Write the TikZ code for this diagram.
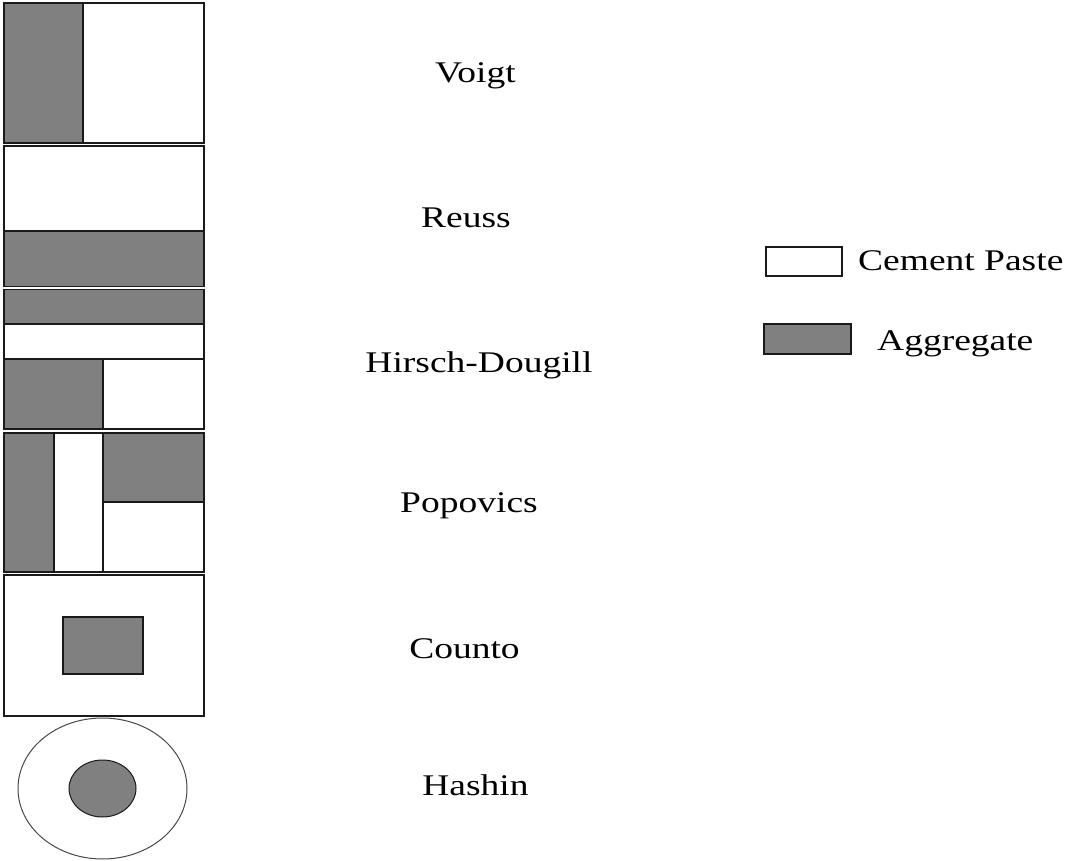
\documentclass[tikz,border=0pt]{standalone}
\usepackage{fontspec}
\setmainfont{Liberation Serif}[FakeStretch=1.25]
\definecolor{aggr}{HTML}{808080}
\definecolor{edge}{HTML}{1A1A1A}
\begin{document}
\begin{tikzpicture}[x=1pt,y=-1pt,
  agg/.style={fill=aggr,draw=edge,line width=1.2pt},
  paste/.style={fill=white,draw=edge,line width=1.2pt},
  thin paste/.style={fill=white,draw=edge!80,line width=1pt},
  lbl/.style={anchor=base,inner sep=0pt,font=\fontsize{30}{36}\selectfont},
  leg/.style={anchor=base west,inner sep=0pt,font=\fontsize{30}{36}\selectfont}]
\useasboundingbox (0,0) rectangle (1069,861);
% Voigt
\draw[paste] (83,3) rectangle (204,143);
\draw[agg] (4,3) rectangle (83,143);
% Reuss
\draw[paste] (4,146) rectangle (204,231);
\draw[agg] (4,231) rectangle (204,286.5);
% Hirsch-Dougill
\draw[agg] (4,289.5) rectangle (204,324);
\draw[paste] (4,324) rectangle (204,359);
\draw[agg] (4,359) rectangle (103,429);
\draw[paste] (103,359) rectangle (204,429);
% Popovics
\draw[agg] (4,433) rectangle (54,572);
\draw[paste] (54,433) rectangle (103,572);
\draw[agg] (103,433) rectangle (204,502);
\draw[paste] (103,502) rectangle (204,572);
% Counto
\draw[paste] (4,575) rectangle (204,716);
\draw[agg] (63,617) rectangle (143,674);
% Hashin
\draw[thin paste] (102.5,788.5) ellipse [x radius=84.5, y radius=70.5];
\draw[agg,line width=1pt] (102.5,788.5) ellipse [x radius=33.5, y radius=28.5];
% labels
\node[lbl] (voigt) at (475.5,83) {Voigt};
\node[lbl] (reuss) at (466,228) {Reuss};
\node[lbl] (hirsch) at (479,372) {Hirsch-Dougill};
\node[lbl] (popovics) at (469,512) {Popovics};
\node[lbl] (counto) at (464.5,658) {Counto};
\node[lbl] (hashin) at (475.5,795) {Hashin};
% legend
\draw[paste] (766,247) rectangle (842,276);
\draw[agg] (764,324) rectangle (851,354);
\node[leg] (cement) at (858,271) {Cement Paste};
\node[leg] (aggregate) at (877,350) {Aggregate};
\end{tikzpicture}
\end{document}
